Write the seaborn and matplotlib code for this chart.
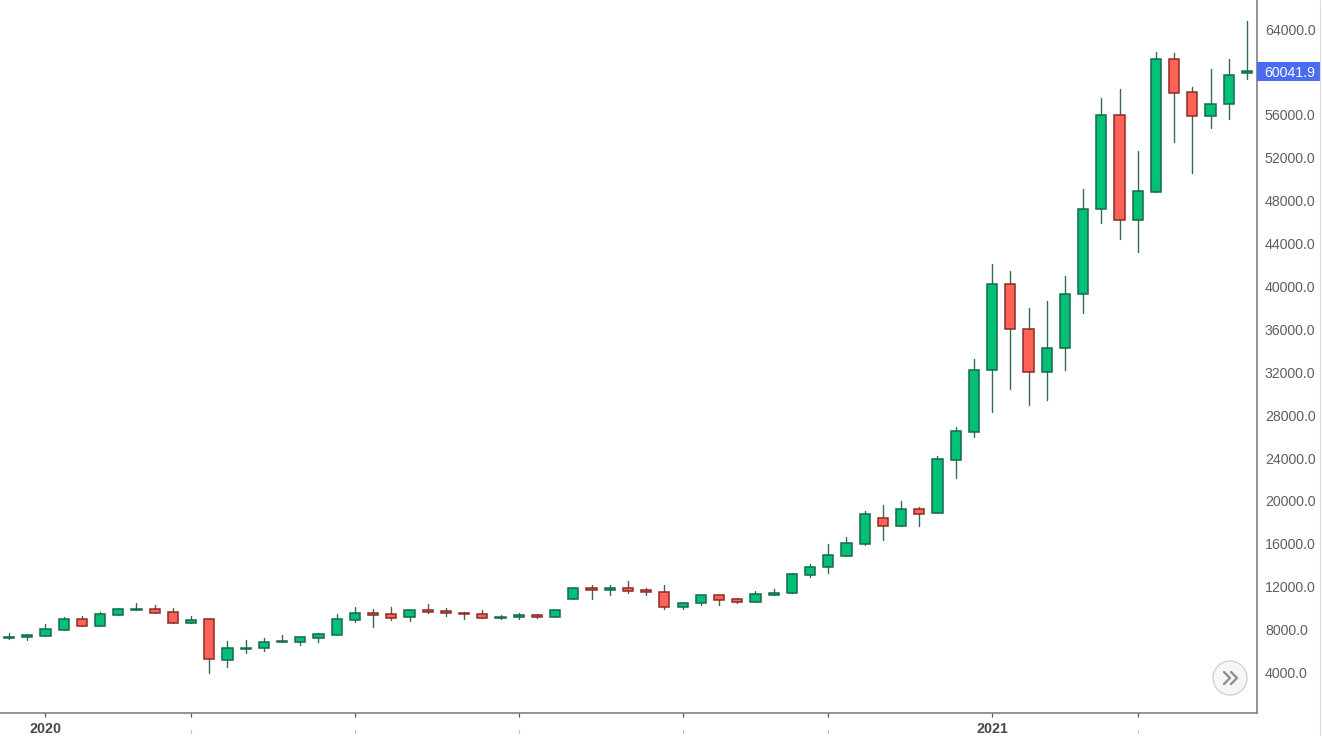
import numpy as np
import pandas as pd
import matplotlib
matplotlib.use('Agg')
import matplotlib.pyplot as plt
import seaborn as sns
from matplotlib.lines import Line2D
from matplotlib.patches import Circle, Rectangle
from matplotlib.transforms import IdentityTransform, blended_transform_factory

open_price = [7186, 7279, 7403, 7994, 8957, 8336, 9393, 9828, 9890, 9672, 8584, 8957, 5196, 6191, 6253, 6813, 6813, 7248,
              7528, 8895, 9579, 9423, 9144, 9797, 9703, 9579, 9423, 9050, 9144, 9330, 9144, 10884, 11909, 11723, 11909,
              11692, 11537, 10076, 10449, 11194, 10822, 10542, 11256, 11381, 13122, 13805, 14894, 16012, 18436, 17660,
              19245, 18840, 23844, 26424, 32174, 40255, 36059, 32019, 34257, 39291, 47217, 56012, 46160, 48833, 61234,
              58095, 55857, 57038, 59866]
high_price = [7714, 7590, 8491, 9144, 9237, 9672, 10045, 10511, 10263, 10045, 9237, 8957, 6906, 7000, 7217, 7466, 7310,
              7714, 9423, 10138, 9921, 10076, 9797, 10387, 10045, 9672, 9797, 9330, 9579, 9423, 9797, 11878, 12157, 12157,
              12530, 11909, 12157, 10480, 11194, 11194, 10946, 11598, 11785, 13308, 14116, 15950, 16603, 19027, 19617,
              19990, 19462, 24186, 26859, 33262, 42058, 41467, 37955, 38670, 40970, 49050, 57535, 58374, 52656, 61887,
              61731, 58623, 60239, 61234, 64777]
low_price = [7155, 7030, 7403, 7994, 8305, 8336, 9362, 9828, 9517, 8584, 8584, 3984, 4544, 5850, 5974, 6813, 6533, 6875,
             7528, 8677, 8274, 8895, 8770, 9517, 9268, 9020, 9050, 9020, 9020, 9113, 9144, 10884, 10884, 11256, 11443,
             11256, 9952, 9952, 10293, 10293, 10511, 10542, 11256, 11381, 12873, 13308, 14894, 15857, 16354, 17660, 17628,
             18840, 22104, 25926, 28258, 30465, 28973, 29408, 32236, 37489, 45911, 44388, 43207, 48833, 53433, 50573,
             54800, 55577, 59369]
close_price = [7310, 7465, 8025, 8957, 8305, 9455, 9890, 9921, 9579, 8584, 8926, 5227, 6253, 6315, 6844, 6906, 7310, 7559,
               8957, 9548, 9393, 9113, 9797, 9610, 9517, 9423, 9050, 9206, 9330, 9175, 9797, 11878, 11723, 11909, 11599,
               11474, 10076, 10480, 11194, 10791, 10542, 11287, 11443, 13153, 13868, 14925, 16075, 18778, 17660, 19245,
               18810, 23906, 26486, 32205, 40255, 35997, 32019, 34287, 39322, 47248, 56012, 46160, 48895, 61234, 58064,
               55857, 57038, 59711, 60041.9]
# 60000.0 sits behind the last price tag in the reference
y_ticks = [4000, 8000, 12000, 16000, 20000, 24000, 28000, 32000, 36000, 40000, 44000, 48000, 52000, 56000, 64000]
x_ticks = [2, 10, 19, 28, 37, 45, 54, 62]
x_tick_labels = ['2020', '', '', '', '', '', '2021', '']
last_price = 60041.9

UP_FILL = '#02c076'
UP_EDGE = '#17694a'
DOWN_FILL = '#ff6358'
DOWN_EDGE = '#8c2b24'
WICK = '#336b55'
AXIS_GRAY = '#808080'
W, H = 1322, 736

sns.set_theme(style='white')
plt.rcParams['font.family'] = ['Liberation Sans', 'DejaVu Sans']

df = pd.DataFrame({'open': open_price, 'high': high_price, 'low': low_price, 'close': close_price})
df['idx'] = df.index
df['bottom'] = df[['open', 'close']].min(axis=1)
df['height'] = (df['close'] - df['open']).abs()
df['up'] = df['close'] >= df['open']

fig = plt.figure(figsize=(W / 100, H / 100), dpi=100)
ax = fig.add_axes([0, (H - 713) / H, 1257 / W, 713 / H])

# wicks, one short line per candle
wicks = df.melt(id_vars='idx', value_vars=['high', 'low'], value_name='price')
sns.lineplot(data=wicks, x='idx', y='price', units='idx', estimator=None, color=WICK, linewidth=1.0,
             legend=False, ax=ax, zorder=2)

# candle bodies, floating bars
for is_up, fill, edge in [(True, UP_FILL, UP_EDGE), (False, DOWN_FILL, DOWN_EDGE)]:
    part = df[df['up'] == is_up]
    sns.barplot(data=part, x='idx', y='height', bottom=part['bottom'].values, native_scale=True, width=0.56,
                color=fill, saturation=1, edgecolor=edge, linewidth=1.1, errorbar=None, ax=ax, zorder=3)

ax.set_xlim(-0.494, 68.55)
ax.set_ylim(224, 66705)
ax.set_xlabel('')
ax.set_ylabel('')

ax.yaxis.tick_right()
ax.set_yticks(y_ticks)
ax.set_yticklabels([f'{v:.1f}' for v in y_ticks], fontsize=10.2, color='#5f5f5f')
ax.set_xticks(x_ticks)
ax.set_xticklabels(x_tick_labels, fontsize=10.3, fontweight='bold', color='#4a4a4a')
ax.tick_params(axis='y', length=3.2, width=0.9, color=AXIS_GRAY, pad=2.5, right=True)
ax.tick_params(axis='x', length=3, width=0.9, color='#555555', pad=3.2, bottom=True)

sns.despine(ax=ax, left=True, top=True, right=False, bottom=False)
for side in ['right', 'bottom']:
    ax.spines[side].set_color(AXIS_GRAY)
    ax.spines[side].set_linewidth(1.2)

# last price tag on the axis
tag_tr = blended_transform_factory(ax.transAxes, ax.transData)
ax.add_patch(Rectangle((1.0, last_price - 880), 63 / 1257, 1760, transform=tag_tr, facecolor='#4a6cf0',
                       edgecolor='none', clip_on=False, zorder=5))
ax.text(1290 / 1257, last_price, f'{last_price:.1f}', transform=tag_tr, color='white', fontsize=10.2,
        ha='center', va='center_baseline', clip_on=False, zorder=6)

# scroll button and the thin frame at the right
px = IdentityTransform()
fig.add_artist(Line2D([1320, 1320], [0, H], transform=px, color='#dddddd', linewidth=0.8))
fig.add_artist(Circle((1230, H - 678), 17, transform=px, facecolor='#f6f6f6', edgecolor='#cfcfcf', linewidth=0.9))
for dx in [0, 7]:
    fig.add_artist(Line2D([1224 + dx, 1230 + dx, 1224 + dx], [H - 672, H - 678, H - 684], transform=px,
                          color='#8f8f8f', linewidth=1.7))

# faint remains of the cut off month labels under the unlabelled ticks
stub_tr = blended_transform_factory(ax.transData, px)
for tick, label in zip(x_ticks, x_tick_labels):
    if not label:
        fig.add_artist(Line2D([tick, tick], [H - 733, H - 730], transform=stub_tr, color='#c4c4c4', linewidth=0.8))

plt.savefig('out.png', dpi=100)
plt.close()
